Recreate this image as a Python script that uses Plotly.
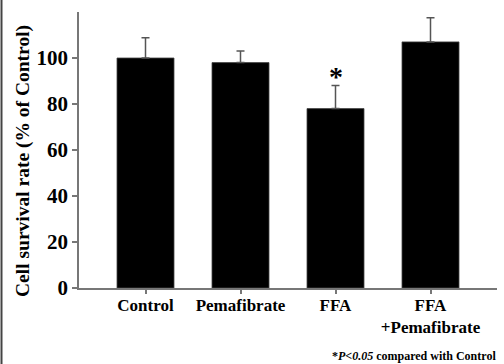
import plotly.graph_objects as go

categories = ["Control", "Pemafibrate", "FFA", "FFA<br>+Pemafibrate"]
survival = [100, 98, 78, 107]
sd_upper = [8.8, 5.0, 10.0, 10.5]
y_ticks = [0, 20, 40, 60, 80, 100]

FONT = "Liberation Serif, Times New Roman, serif"
W, H = 504, 364
L, R, T, B = 79, 7, 12, 76
PW, PH = W - L - R, H - T - B

def px_x(p):
    return (p - L) / PW

def px_y(p):
    return (H - B - p) / PH

fig = go.Figure()
fig.add_trace(go.Bar(
    x=list(range(len(categories))),
    y=survival,
    width=0.6,
    marker=dict(color="black", line=dict(color="#444", width=0.8)),
    error_y=dict(type="data", symmetric=False, array=sd_upper,
                 arrayminus=[0] * len(sd_upper),
                 color="#555", thickness=1.5, width=4),
    showlegend=False,
))

fig.update_layout(
    width=W, height=H,
    margin=dict(l=L, r=R, t=T, b=B),
    paper_bgcolor="white", plot_bgcolor="white",
    font=dict(family=FONT, color="black"),
    bargap=0.4,
    xaxis=dict(
        range=[-0.7, 3.7],
        tickmode="array",
        tickvals=list(range(len(categories))),
        ticktext=categories,
        showline=True, linecolor="#777", linewidth=1.5,
        ticks="outside", ticklen=4, tickcolor="#777", tickwidth=1.5,
        ticklabelstandoff=-3,
        tickfont=dict(size=17, family=FONT, weight="bold", color="black"),
        showgrid=False, zeroline=False,
    ),
    yaxis=dict(
        range=[0, 120],
        tickmode="array",
        tickvals=y_ticks,
        ticktext=[str(v) for v in y_ticks],
        showline=True, linecolor="#777", linewidth=1.5,
        ticks="outside", ticklen=5, tickcolor="#777", tickwidth=1.5,
        tickfont=dict(size=21, family=FONT, weight="bold", color="black"),
        showgrid=False, zeroline=False,
    ),
)

# y-axis title
fig.add_annotation(
    xref="paper", yref="paper", x=px_x(23), y=px_y(161),
    text="Cell survival rate (% of Control)", textangle=-90,
    showarrow=False, xanchor="center", yanchor="middle",
    font=dict(size=19.5, family=FONT, weight="bold", color="black"),
)

# significance star
fig.add_annotation(
    x=2, y=survival[2] + sd_upper[2], xref="x", yref="y",
    text="*", showarrow=False, yanchor="bottom", yshift=-8,
    font=dict(size=28, family=FONT, weight="bold", color="black"),
)

# footnote
fig.add_annotation(
    xref="paper", yref="paper", x=px_x(330), y=px_y(356),
    text="*<i>P&lt;0.05</i> compared with Control",
    showarrow=False, xanchor="left", yanchor="middle",
    font=dict(size=12, family=FONT, weight="bold", color="black"),
)

# left border line
fig.add_shape(
    type="line", xref="paper", yref="paper",
    x0=px_x(1.5), x1=px_x(1.5), y0=px_y(0), y1=px_y(364),
    line=dict(color="#444", width=2),
)

fig.write_html("out.html")
